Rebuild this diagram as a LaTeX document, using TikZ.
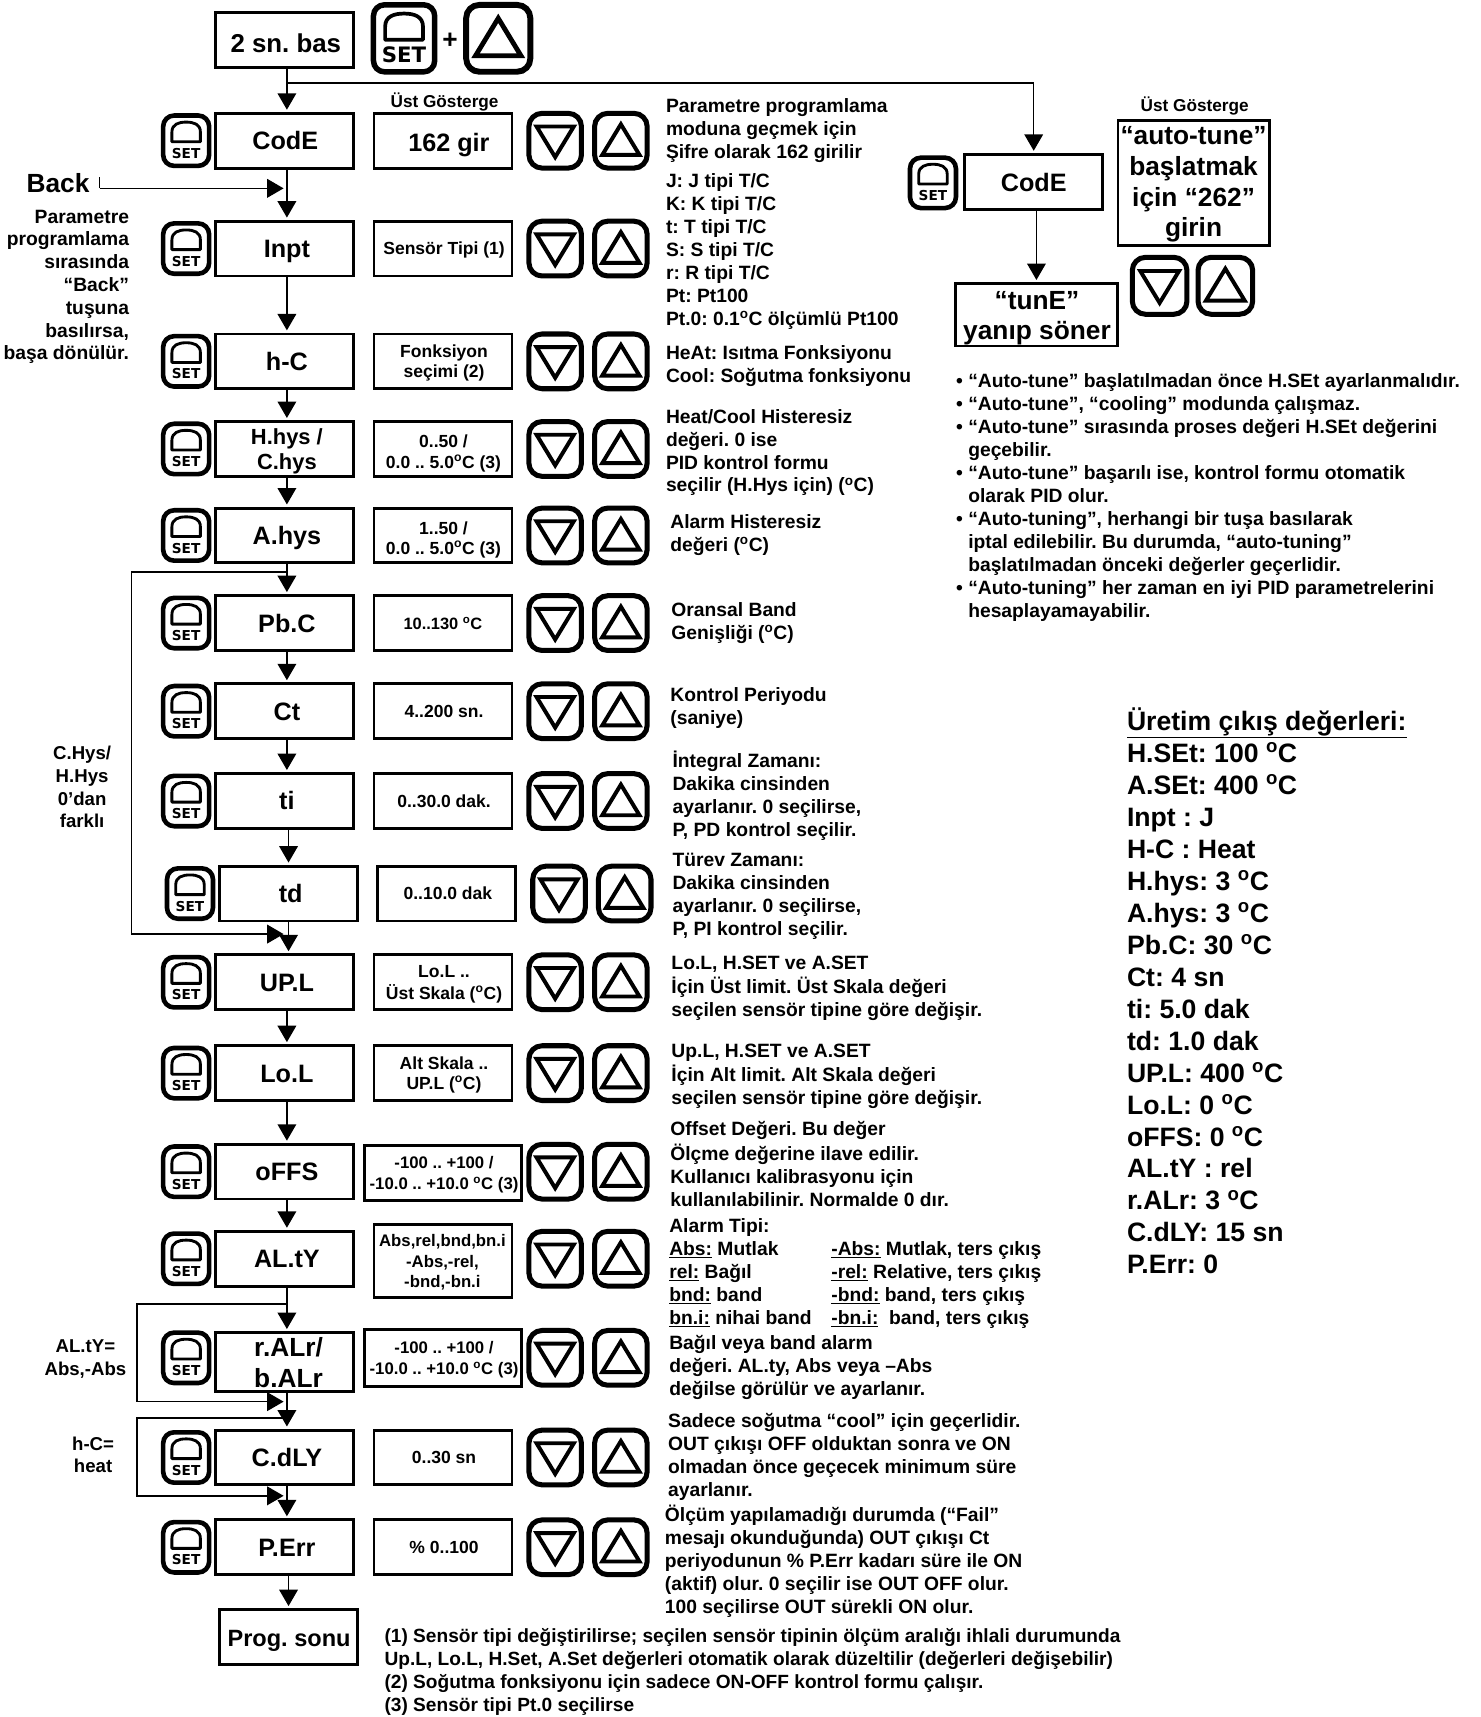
\documentclass[tikz,border=0pt]{standalone}
\usepackage{fontspec}
\setmainfont{Liberation Sans}
\newfontfamily\setfont{DejaVu Sans}
\usetikzlibrary{arrows.meta,calc}
\AtBeginDocument{\frenchspacing}
\newcommand\fsz[2]{\fontsize{#1}{#2}\selectfont\bfseries}
\newcommand\dg{\textsuperscript{o}}
\tikzset{
  x=1pt,y=-1pt,
  btnlw/.style={line width=4.2pt},
  domelw/.style={line width=2.6pt},
  trilw/.style={line width=3.6pt},
  setlbl/.style={font=\fontsize{12.5}{13}\setfont\bfseries},
  mainbox/.style={draw,line width=2.6pt,minimum width=126pt,minimum height=50pt,inner sep=0pt},
  valbox/.style={draw,line width=2.6pt,minimum width=126pt,minimum height=50pt,inner sep=0pt},
  mainlbl/.style={inner sep=0pt,align=center,font=\fsz{23}{28}},
  vallbl/.style={inner sep=0pt,align=center,font=\fsz{16}{18.7}},
  txt/.style={anchor=north west,inner sep=0pt,align=left,font=\fsz{17.6}{21}},
  side/.style={inner sep=0pt,align=center,font=\fsz{17}{20.7}},
  arr/.style={line width=1.4pt,-{Triangle[length=15pt,width=17pt]},shorten >=2pt},
  line/.style={line width=1.4pt},
  pics/setbtn/.style={code={
    \draw[btnlw,rounded corners=10pt] (-21,-23) rectangle (21,23);
    \draw[domelw,line join=round] (-13,1) -- (-13,-8) .. controls (-13,-15) and (-7,-17) .. (0,-17) .. controls (7,-17) and (13,-15) .. (13,-8) -- (13,1) -- cycle;
    \node[inner sep=0pt,transform shape,setlbl] (-lbl) at (0,11.5) {SET};
  }},
  pics/downbtn/.style={code={
    \draw[line width=4.6pt,rounded corners=12pt,btnbig] (-24,-25) rectangle (24,25);
    \draw[trilw,miter limit=10] (-17,-13) -- (17,-13) -- (0,15) -- cycle;
  }},
  pics/upbtn/.style={code={
    \draw[line width=4.6pt,rounded corners=12pt,btnbig] (-24,-25) rectangle (24,25);
    \draw[trilw,miter limit=10] (-17,13) -- (17,13) -- (0,-15) -- cycle;
  }},
  btnbig/.style={},
}
% label node: both ends strutted, so that all labels sit alike
\newcommand\lbl[5][]{\node[#2,#1] (#3) at (#4) {\strut #5\strut};}
\newcommand\btns[3]{%
  \pic (#1s) at (170+#3,#2) {setbtn};
  \pic (#1d) at (507+#3,#2) {downbtn};
  \pic (#1u) at (567+#3,#2) {upbtn};
}
% id, y, main text, value text, x offset
\newcommand\rowbox[5]{%
  \btns{#1}{#2}{#5}
  \node[mainbox] (#1) at (260+#5,#2) {};
  \node[valbox] (#1v) at (404.5+#5,#2) {};
  \lbl{mainlbl}{#1t}{262+#5,#2+2.6}{#3}
  \lbl{vallbl}{#1vt}{405.5+#5,#2+2}{#4}
}
% id, x, y of first line centre, text
\newcommand\tb[4]{\node[txt] (#1) at (#2,#3-8.6) {\strut #4};}
\newcommand\flow[2]{\draw[arr] ($(#1.south)+(2,0)$) -- ($(#2.north)+(2,0)$);}
\begin{document}
\begin{tikzpicture}
\useasboundingbox (0,0) rectangle (1352,1568);

% top
\node[mainbox] (start) at (260,36.5) {};
\lbl[font=\fsz{23.6}{28}]{mainlbl}{startt}{261,42.6}{2 sn. bas}
\pic[scale=1.33,btnlw/.style={line width=5pt},domelw/.style={line width=3.4pt},setlbl/.style={font=\fontsize{14.6}{15}\setfont\bfseries}] (bigset) at (369,35) {setbtn};
\node[inner sep=0pt,font=\fsz{24}{24}] (plus) at (411,37) {+};
\pic[scale=1.22,btnbig/.style={line width=5.4pt},trilw/.style={line width=4.4pt}] (bigup) at (455,35) {upbtn};

\node[inner sep=0pt,font=\fsz{15.7}{16}] (ustg) at (406,93) {Üst Gösterge};

\rowbox{code}{128.5}{\hspace{-3pt}CodE}{}{0}
\lbl[font=\fsz{23}{28}]{vallbl}{codevt2}{410,133}{162 gir}
\rowbox{inpt}{227}{Inpt}{Sensör Tipi (1)}{0}
\rowbox{hc}{330}{h-C}{Fonksiyon\\seçimi (2)}{0}
\rowbox{hhys}{410}{}{}{0}
\lbl[font=\fsz{20}{23}]{mainlbl}{hhyst2}{262,412.5}{H.hys /\\C.hys}
\lbl{vallbl}{hhysvt2}{405,414.5}{0..50 /\\0.0 .. 5.0\dg C (3)}
\rowbox{ahys}{489}{A.hys}{}{0}
\lbl{vallbl}{ahysvt2}{405,493.5}{1..50 /\\0.0 .. 5.0\dg C (3)}
\rowbox{pbc}{569}{Pb.C}{}{0}
\lbl[font=\fsz{15}{18.7}]{vallbl}{pbcvt2}{404.5,571}{10..130 \dg C}
\rowbox{ct}{649.5}{Ct}{4..200 sn.}{0}
\rowbox{ti}{731.5}{ti}{0..30.0 dak.}{0}
\rowbox{td}{816}{td}{0..10.0 dak}{3.5}
\rowbox{upl}{897}{UP.L}{Lo.L ..\\Üst Skala (\dg C)}{0}
\rowbox{lol}{980}{Lo.L}{Alt Skala ..\\UP.L (\dg C)}{0}

\btns{offs}{1070}{0}
\node[mainbox] (offs) at (260,1070) {};
\lbl{mainlbl}{offst}{262,1072.6}{oFFS}
\node[valbox,minimum width=143pt] (offsv) at (404.5,1071) {};
\lbl[font=\fsz{15.3}{18.7}]{vallbl}{offsvt}{405.5,1073}{-100 .. +100 /\\-10.0 .. +10.0 \dg C (3)}

\btns{alty}{1149.5}{0}
\node[mainbox] (alty) at (260,1149.5) {};
\lbl{mainlbl}{altyt}{262,1152.1}{AL.tY}
\node[valbox,minimum height=67pt] (altyv) at (404.5,1151.5) {};
\lbl[font=\fsz{15.3}{18.7}]{vallbl}{altyvt}{404,1153.5}{Abs,rel,bnd,bn.i\\-Abs,-rel,\\-bnd,-bn.i}

\btns{ralr}{1240}{0}
\node[mainbox,minimum height=54pt] (ralr) at (260,1244) {};
\lbl[font=\fsz{24}{28}]{mainlbl}{ralrt}{263.5,1247.6}{r.ALr/\\b.ALr}
\node[valbox,minimum width=143pt,minimum height=52pt] (ralrv) at (404.5,1240) {};
\lbl[font=\fsz{15.3}{18.7}]{vallbl}{ralrvt}{405.5,1242}{-100 .. +100 /\\-10.0 .. +10.0 \dg C (3)}

\rowbox{cdly}{1331}{C.dLY}{0..30 sn}{0}
\rowbox{perr}{1413}{P.Err}{\% 0..100}{0}

\node[mainbox] (prog) at (263.5,1495) {};
\lbl[font=\fsz{21.5}{28}]{mainlbl}{progt}{264,1497.6}{Prog. sonu}

% main flow
\flow{start}{code}
\flow{code}{inpt}
\flow{inpt}{hc}
\flow{hc}{hhys}
\flow{hhys}{ahys}
\flow{ahys}{pbc}
\flow{pbc}{ct}
\flow{ct}{ti}
\draw[arr] (td.north |- ti.south) -- (td.north);
\draw[arr] (td.south) -- (td.south |- upl.north);
\flow{upl}{lol}
\flow{lol}{offs}
\flow{offs}{alty}
\flow{alty}{ralr}
\flow{ralr}{cdly}
\flow{cdly}{perr}
\draw[arr] (prog.north |- perr.south) -- (prog.north);

% back
\node[inner sep=0pt,font=\fsz{24}{24}] (backt) at (53,167) {Back};
\coordinate (backa) at (91,162);
\coordinate (backb) at (91,172);
\coordinate (backc) at (261,172);
\draw[line] (backa) -- (backb);
\draw[arr] (backb) -- (backc);

% bypasses
\coordinate (p1a) at (262,522.5); \coordinate (p1b) at (120,522.5);
\coordinate (p1c) at (120,853); \coordinate (p1d) at (261,853);
\draw[arr] (p1a) -- (p1b) -- (p1c) -- (p1d);
\coordinate (p2a) at (262,1191); \coordinate (p2b) at (125,1191);
\coordinate (p2c) at (125,1280); \coordinate (p2d) at (261,1280);
\draw[arr] (p2a) -- (p2b) -- (p2c) -- (p2d);
\coordinate (p3a) at (262,1295); \coordinate (p3b) at (125,1295);
\coordinate (p3c) at (125,1366); \coordinate (p3d) at (261,1366);
\draw[arr] (p3a) -- (p3b) -- (p3c) -- (p3d);

% right branch
\pic (code2s) at (852,167) {setbtn};
\node[mainbox] (code2) at (944,166) {};
\lbl{mainlbl}{code2t}{944,169.6}{CodE}
\node[mainbox,minimum width=148pt,minimum height=57pt] (tune) at (946.5,287.5) {};
\lbl[font=\fsz{24}{28}]{mainlbl}{tunet}{947,290.6}{“tunE”\\yanıp söner}
\node[inner sep=0pt,font=\fsz{15.7}{16}] (ustg2) at (1091,97) {Üst Gösterge};
\node[mainbox,minimum width=138pt,minimum height=114pt] (auto) at (1090,167) {};
\lbl[font=\fsz{24}{28}]{mainlbl}{autot}{1090,168.6}{“auto-tune”\\başlatmak\\için “262”\\girin}
\pic[scale=1.04] (autod) at (1059,261) {downbtn};
\pic[scale=1.04] (autou) at (1119,261) {upbtn};
\coordinate (br0) at (262,76);
\coordinate (br1) at (944,76);
\draw[arr] (br0) -- (br1) -- (code2);
\draw[arr] (tune.north |- code2.south) -- (tune.north);

% left notes
\node[anchor=north east,inner sep=0pt,align=right,font=\fsz{17.6}{20.8}] (ln1) at (118,189) {\strut Parametre\\programlama\\sırasında\\“Back”\\tuşuna\\basılırsa,\\başa dönülür.};
\node[side] (ln2) at (75,719) {C.Hys/\\H.Hys\\0’dan\\farklı};
\node[side] (ln3) at (78,1241) {AL.tY=\\Abs,-Abs};
\node[side] (ln4) at (85,1328.5) {h-C=\\heat};

% description texts
\tb{t1}{608}{96}{Parametre programlama\\moduna geçmek için\\Şifre olarak 162 girilir}
\tb{t2}{608}{165}{J: J tipi T/C\\K: K tipi T/C\\t: T tipi T/C\\S: S tipi T/C\\r: R tipi T/C\\Pt: Pt100\\Pt.0: 0.1\dg C ölçümlü Pt100}
\tb{t3}{608}{322}{HeAt: Isıtma Fonksiyonu\\Cool: Soğutma fonksiyonu}
\tb{t4}{608}{380}{Heat/Cool Histeresiz\\değeri. 0 ise\\PID kontrol formu\\seçilir (H.Hys için) (\dg C)}
\tb{t5}{612}{476}{Alarm Histeresiz\\değeri (\dg C)}
\tb{t6}{613}{557}{Oransal Band\\Genişliği (\dg C)}
\tb{t7}{612}{634}{Kontrol Periyodu\\(saniye)}
\tb{t8}{614}{694}{İntegral Zamanı:\\Dakika cinsinden\\ayarlanır. 0 seçilirse,\\P, PD kontrol seçilir.}
\tb{t9}{614}{785}{Türev Zamanı:\\Dakika cinsinden\\ayarlanır. 0 seçilirse,\\P, PI kontrol seçilir.}
\tb{t10}{613}{879}{Lo.L, H.SET ve A.SET\\İçin Üst limit. Üst Skala değeri\\seçilen sensör tipine göre değişir.}
\tb{t11}{613}{959}{Up.L, H.SET ve A.SET\\İçin Alt limit. Alt Skala değeri\\seçilen sensör tipine göre değişir.}
\tb{t12}{612}{1031}{Offset Değeri. Bu değer\\Ölçme değerine ilave edilir.\\Kullanıcı kalibrasyonu için\\kullanılabilinir. Normalde 0 dır.}
\tb{t13}{611}{1119}{Alarm Tipi:\\\underline{Abs:} Mutlak\\\underline{rel:} Bağıl\\\underline{bnd:} band\\\underline{bn.i:} nihai band}
\tb{t13b}{759}{1140}{\underline{-Abs:} Mutlak, ters çıkış\\\underline{-rel:} Relative, ters çıkış\\\underline{-bnd:} band, ters çıkış\\\underline{-bn.i:}\ \ band, ters çıkış}
\tb{t14}{611}{1226}{Bağıl veya band alarm\\değeri. AL.ty, Abs veya –Abs\\değilse görülür ve ayarlanır.}
\tb{t15}{610}{1297}{Sadece soğutma “cool” için geçerlidir.\\OUT çıkışı OFF olduktan sonra ve ON\\olmadan önce geçecek minimum süre\\ayarlanır.}
\tb{t16}{607}{1383}{Ölçüm yapılamadığı durumda (“Fail”\\mesajı okunduğunda) OUT çıkışı Ct\\periyodunun \% P.Err kadarı süre ile ON\\(aktif) olur. 0 seçilir ise OUT OFF olur.\\100 seçilirse OUT sürekli ON olur.}
\node[txt,font=\fsz{17.45}{21}] (t17) at (351,1485.4) {\strut (1) Sensör tipi değiştirilirse; seçilen sensör tipinin ölçüm aralığı ihlali durumunda\\Up.L, Lo.L, H.Set, A.Set değerleri otomatik olarak düzeltilir (değerleri değişebilir)\\(2) Soğutma fonksiyonu için sadece ON-OFF kontrol formu çalışır.\\(3) Sensör tipi Pt.0 seçilirse};

% bullets
\tb{b1}{873}{348}{• “Auto-tune” başlatılmadan önce H.SEt ayarlanmalıdır.\\• “Auto-tune”, “cooling” modunda çalışmaz.\\• “Auto-tune” sırasında proses değeri H.SEt değerini\\\phantom{• }geçebilir.\\• “Auto-tune” başarılı ise, kontrol formu otomatik\\\phantom{• }olarak PID olur.\\• “Auto-tuning”, herhangi bir tuşa basılarak\\\phantom{• }iptal edilebilir. Bu durumda, “auto-tuning”\\\phantom{• }başlatılmadan önceki değerler geçerlidir.\\• “Auto-tuning” her zaman en iyi PID parametrelerini\\\phantom{• }hesaplayamayabilir.}

% factory values
\node[anchor=north west,inner sep=0pt,align=left,font=\fsz{24.3}{29.2}] (fv) at (1029,646) {\strut\underline{Üretim çıkış değerleri:}\\H.SEt: 100 \dg C\\A.SEt: 400 \dg C\\Inpt : J\\H-C : Heat\\H.hys: 3 \dg C\\A.hys: 3 \dg C\\Pb.C: 30 \dg C\\Ct: 4 sn\\ti: 5.0 dak\\td: 1.0 dak\\UP.L: 400 \dg C\\Lo.L: 0 \dg C\\oFFS: 0 \dg C\\AL.tY : rel\\r.ALr: 3 \dg C\\C.dLY: 15 sn\\P.Err: 0};
\end{tikzpicture}
\end{document}
